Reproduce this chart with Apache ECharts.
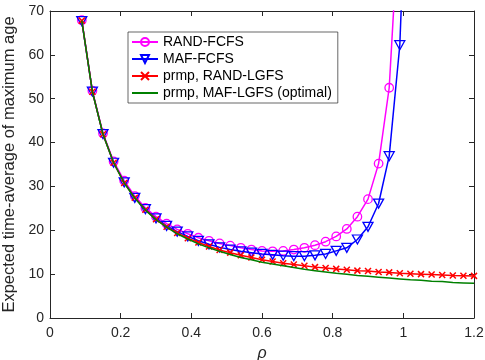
<!DOCTYPE html>
<html>
<head>
<meta charset="utf-8">
<script src="https://cdn.jsdelivr.net/npm/echarts@6/dist/echarts.min.js"></script>
<style>
html,body{margin:0;padding:0;background:#fff;}
#chart{width:485px;height:360px;}
</style>
</head>
<body>
<div id="chart"></div>
<script>
const rho = [0.09,0.12,0.15,0.18,0.21,0.24,0.27,0.30,0.33,0.36,0.39,0.42,0.45,0.48,0.51,0.54,0.57,0.60,0.63,0.66,0.69,0.72,0.75,0.78,0.81,0.84,0.87,0.90,0.93,0.96,0.99,1.02,1.05,1.08,1.11,1.14,1.17,1.20];
const randFcfs = [67.9,51.8,42.1,35.7,31.3,27.8,25.1,23.1,21.5,20.2,19.2,18.3,17.6,17.0,16.5,16.0,15.6,15.3,15.2,15.3,15.6,16.0,16.6,17.4,18.6,20.3,23.1,27.1,35.2,52.5,95];
const mafFcfs = [67.7,51.6,41.9,35.4,30.9,27.4,24.8,22.7,21.0,19.7,18.6,17.6,16.8,16.1,15.6,15.2,14.9,14.6,14.4,14.2,14.1,14.1,14.3,14.6,15.3,16.0,17.9,20.8,26.1,36.9,62.2,125];
const prmpRandLgfs = [67.8,51.6,41.9,35.4,30.8,27.4,24.7,22.5,20.8,19.4,18.2,17.2,16.3,15.5,14.9,14.3,13.8,13.3,12.9,12.5,12.2,11.9,11.6,11.4,11.2,11.0,10.8,10.7,10.5,10.4,10.2,10.1,10.0,9.9,9.8,9.7,9.65,9.6];
const prmpMafLgfs = [67.8,51.6,41.9,35.4,30.8,27.3,24.6,22.4,20.7,19.2,18.0,16.9,16.0,15.2,14.5,13.8,13.3,12.7,12.3,11.9,11.5,11.1,10.8,10.5,10.2,10.0,9.7,9.5,9.3,9.1,8.9,8.7,8.6,8.4,8.3,8.1,8.0,7.9];
const xTicks = [0,0.2,0.4,0.6,0.8,1,1.2];
const yTicks = [0,10,20,30,40,50,60,70];
const seriesNames = ['RAND-FCFS','MAF-FCFS','prmp, RAND-LGFS','prmp, MAF-LGFS (optimal)'];

const pairs = (ys) => ys.map((v,i)=>[rho[i], v]);
const FONT = 'Liberation Sans, Arial, Helvetica, sans-serif';
const AX = '#262626';

const chart = echarts.init(document.getElementById('chart'), null, {renderer:'canvas'});
const baseAxis = {
  axisLine:{show:true, onZero:false, lineStyle:{color:AX, width:1}},
  axisTick:{show:true, inside:true, length:5, lineStyle:{color:AX}},
  splitLine:{show:false},
};
chart.setOption({
  animation:false,
  backgroundColor:'#fff',
  grid:{left:50, right:11, top:11, bottom:42, containLabel:false, outerBoundsMode:'none'},
  xAxis:[
    Object.assign({type:'value', min:xTicks[0], max:xTicks[xTicks.length-1], interval:0.2, position:'bottom',
      axisLabel:{color:AX, fontFamily:FONT, fontSize:14, margin:8, formatter:(v)=>String(+v.toFixed(1))},
      name:'ρ', nameLocation:'middle', nameGap:28,
      nameTextStyle:{color:AX, fontFamily:FONT, fontSize:16, fontStyle:'italic'}}, baseAxis),
    Object.assign({type:'value', min:xTicks[0], max:xTicks[xTicks.length-1], interval:0.2, position:'top',
      axisLabel:{show:false}}, baseAxis)
  ],
  yAxis:[
    Object.assign({type:'value', min:yTicks[0], max:yTicks[yTicks.length-1], interval:10, position:'left',
      axisLabel:{color:AX, fontFamily:FONT, fontSize:14, margin:6},
      name:'Expected time-average of maximum age', nameLocation:'middle', nameGap:25,
      nameTextStyle:{color:AX, fontFamily:FONT, fontSize:16.5}}, baseAxis),
    Object.assign({type:'value', min:yTicks[0], max:yTicks[yTicks.length-1], interval:10, position:'right',
      axisLabel:{show:false}}, baseAxis)
  ],
  legend:{
    orient:'vertical', left:128, top:32, padding:[3,6,3,3],
    backgroundColor:'#fff', borderColor:AX, borderWidth:0.7,
    itemWidth:26, itemHeight:10, itemGap:3,
    textStyle:{color:'#000', fontFamily:FONT, fontSize:14, lineHeight:14},
    data:[seriesNames[0], seriesNames[1], seriesNames[2], {name:seriesNames[3], itemStyle:{opacity:0}}]
  },
  series:[
    {name:seriesNames[0], type:'line', data:pairs(randFcfs), symbol:'circle', symbolSize:8.5,
      lineStyle:{color:'#ff00ff', width:1.5}, itemStyle:{color:'rgba(0,0,0,0)', borderColor:'#ff00ff', borderWidth:1.3},
      clip:true, z:2},
    {name:seriesNames[1], type:'line', data:pairs(mafFcfs), symbol:'path://M0,0L10,0L5,9Z', symbolSize:[10,9],
      lineStyle:{color:'#0000ff', width:1.5}, itemStyle:{color:'rgba(0,0,0,0)', borderColor:'#0000ff', borderWidth:1.3},
      clip:true, z:3},
    {name:seriesNames[2], type:'line', data:pairs(prmpRandLgfs), symbol:'path://M0,0L10,10M10,0L0,10', symbolSize:6,
      lineStyle:{color:'#ff0000', width:1.5}, itemStyle:{color:'#ff0000', borderColor:'#ff0000', borderWidth:1.5},
      clip:true, z:4},
    {name:seriesNames[3], type:'line', data:pairs(prmpMafLgfs), symbol:'none', smooth:false,
      lineStyle:{color:'#008000', width:1.5}, itemStyle:{color:'#008000'},
      clip:true, z:5}
  ]
});
</script>
</body>
</html>
